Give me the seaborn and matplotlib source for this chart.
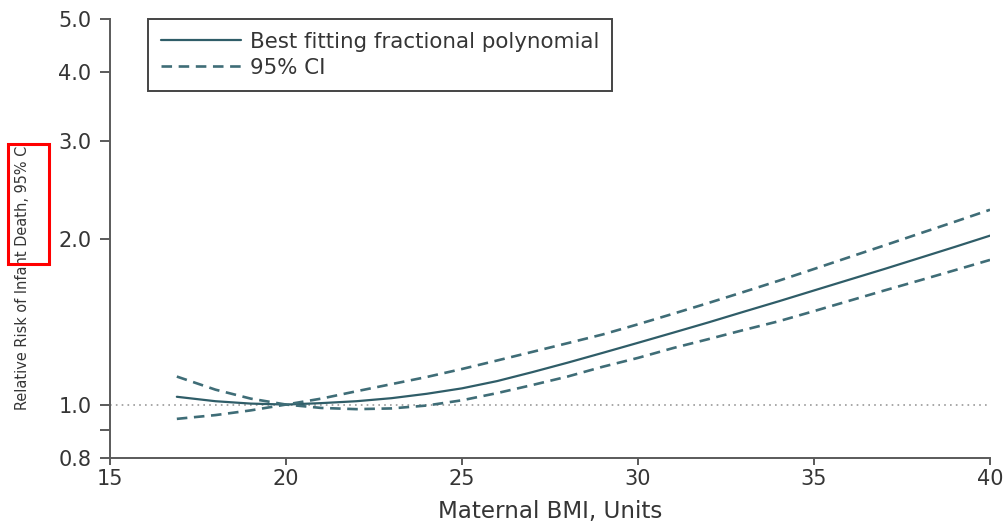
import numpy as np
import pandas as pd
import matplotlib
matplotlib.use("Agg")
import matplotlib.pyplot as plt
import matplotlib.ticker as mticker
from matplotlib.patches import Rectangle
from matplotlib import font_manager as fm
import seaborn as sns

# ---------------- data ----------------
bmi = [16.9, 18, 19, 20, 21, 22, 23, 24, 25, 26, 27, 28, 29, 30,
       31, 32, 33, 34, 35, 36, 37, 38, 39, 40]
rr_fit = [1.033, 1.014, 1.004, 1.000, 1.006, 1.014, 1.027, 1.046, 1.070,
          1.103, 1.145, 1.191, 1.241, 1.294, 1.350, 1.409, 1.473, 1.539,
          1.610, 1.684, 1.761, 1.844, 1.931, 2.024]
ci_upper = [1.124, 1.064, 1.025, 1.000, 1.025, 1.057, 1.089, 1.122, 1.160,
            1.202, 1.246, 1.292, 1.340, 1.398, 1.461, 1.528, 1.600, 1.677,
            1.761, 1.850, 1.943, 2.042, 2.145, 2.255]
ci_lower = [0.942, 0.957, 0.976, 1.000, 0.986, 0.981, 0.984, 0.996, 1.018,
            1.049, 1.085, 1.124, 1.171, 1.215, 1.266, 1.314, 1.365, 1.416,
            1.477, 1.542, 1.610, 1.679, 1.752, 1.829]
x_ticks = [15, 20, 25, 30, 35, 40]
y_ticks = [0.8, 1.0, 2.0, 3.0, 4.0, 5.0]
y_minor = [0.9]
legend_labels = ["Best fitting fractional polynomial", "95% CI"]
x_label = "Maternal BMI, Units"
y_label = "Relative Risk of Infant Death, 95% CI"

# ---------------- style ----------------
sns.set_theme(style="white")
plt.rcParams["font.family"] = ["DejaVu Sans"]

# pick a narrow face for the (condensed-looking) y label if one exists
ylab_family = ["Liberation Sans", "DejaVu Sans"]
ylab_stretch = "normal"
for f in fm.fontManager.ttflist:
    nm = f.name.lower()
    if "narrow" in nm or "condensed" in nm:
        ylab_family = [f.name, "DejaVu Sans"]
        break
    if str(f.stretch) in ("condensed", "semi-condensed", "extra-condensed"):
        ylab_family = [f.name, "DejaVu Sans"]
        ylab_stretch = f.stretch
        break

line_color = "#2f5d68"
dash_color = "#3f6d77"
text_color = "#353535"
axis_color = "#5a5a5a"

df = pd.DataFrame({"bmi": bmi, "fit": rr_fit, "lo": ci_lower, "hi": ci_upper})

fig = plt.figure(figsize=(10.06, 5.25), dpi=100)
ax = fig.add_axes([0.1093, 0.1276, 0.8748, 0.8362])

ax.set_yscale("log")
ax.set_xlim(15, 40)
ax.set_ylim(0.8, 5.0)

# reference line at RR = 1
ax.axhline(1.0, color="#9a9a9a", lw=1.2, ls=(0, (1, 2.5)), zorder=1)

sns.lineplot(data=df, x="bmi", y="fit", ax=ax, color=line_color, lw=1.6,
             label=legend_labels[0], zorder=3)
sns.lineplot(data=df, x="bmi", y="hi", ax=ax, color=dash_color, lw=1.9,
             label=legend_labels[1], zorder=3)
sns.lineplot(data=df, x="bmi", y="lo", ax=ax, color=dash_color, lw=1.9,
             label="_nolegend_", zorder=3)
for ln in ax.lines[-2:]:
    ln.set_linestyle((0, (4, 2.5)))

# axes / ticks
sns.despine(ax=ax)
for s in ["left", "bottom"]:
    ax.spines[s].set_color(axis_color)
    ax.spines[s].set_linewidth(1.4)

ax.xaxis.set_major_locator(mticker.FixedLocator(x_ticks))
ax.xaxis.set_major_formatter(mticker.FixedFormatter([str(t) for t in x_ticks]))
ax.yaxis.set_major_locator(mticker.FixedLocator(y_ticks))
ax.yaxis.set_major_formatter(mticker.FixedFormatter([f"{t:.1f}" for t in y_ticks]))
ax.yaxis.set_minor_locator(mticker.FixedLocator(y_minor))
ax.yaxis.set_minor_formatter(mticker.NullFormatter())

ax.tick_params(axis="y", which="both", direction="out", length=7.2, width=1.4,
               color=axis_color, labelsize=15, labelcolor=text_color, pad=6,
               left=True)
ax.tick_params(axis="x", which="major", direction="out", length=5, width=1.4,
               color=axis_color, labelsize=15, labelcolor=text_color, pad=3,
               bottom=True)

ax.set_xlabel(x_label, fontsize=16.6, color=text_color, labelpad=7.5)
ylab = ax.set_ylabel(y_label, fontsize=12, color=text_color,
                     family=ylab_family, fontstretch=ylab_stretch)
ax.yaxis.set_label_coords(-0.091, 0.415)

# fit the y label length to the reference (~268 px)
fig.canvas.draw()
h = ylab.get_window_extent().height
ylab.set_fontsize(12 * 268.0 / h)

leg = ax.legend(loc="upper left", bbox_to_anchor=(0.0432, 1.0),
                frameon=True, fancybox=False, fontsize=15.4,
                handlelength=3.75, handletextpad=0.4, borderpad=0.6,
                labelspacing=0.28, borderaxespad=0)
leg.get_frame().set_edgecolor("#444444")
leg.get_frame().set_linewidth(1.4)
leg.get_frame().set_facecolor("white")
leg.get_frame().set_alpha(1)
for t in leg.get_texts():
    t.set_color(text_color)

# red highlight box as in the reference picture
fig.patches.append(Rectangle((8 / 1006, 1 - 264 / 525), 41 / 1006, 120 / 525,
                             transform=fig.transFigure, fill=False,
                             edgecolor="#ff0000", lw=2.2, zorder=10))

fig.savefig("out.png", dpi=100)
